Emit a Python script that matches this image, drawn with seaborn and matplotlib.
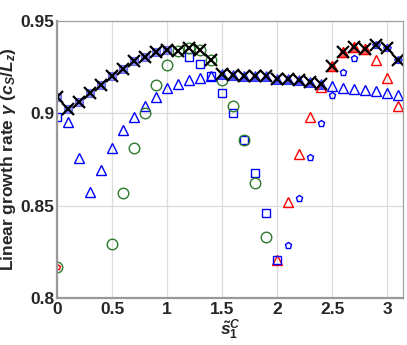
import numpy as np
import pandas as pd
import seaborn as sns
import matplotlib.pyplot as plt

# envelope (black crosses), all modes at x = 0, 0.1, ..., 3.1
x_env = np.round(np.arange(32) * 0.1, 1)
g_env = [0.909, 0.902, 0.906, 0.911, 0.915, 0.920, 0.924, 0.928, 0.9305, 0.933,
         0.934, 0.9336, 0.935, 0.934, 0.9287, 0.921, 0.9206, 0.920, 0.920, 0.920,
         0.9185, 0.9185, 0.918, 0.917, 0.916, 0.9255, 0.933, 0.9356, 0.9347, 0.937,
         0.935, 0.929]

# blue triangles
x_tri = [0.1, 0.2, 0.3, 0.4, 0.5, 0.6, 0.7, 0.8, 0.9, 1.0, 1.1, 1.2, 1.3, 1.4,
         2.5, 2.6, 2.7, 2.8, 2.9, 3.0, 3.1]
g_tri = [0.895, 0.876, 0.8575, 0.869, 0.881, 0.891, 0.898, 0.904, 0.909, 0.9134,
         0.9155, 0.918, 0.919, 0.920, 0.9147, 0.9136, 0.9129, 0.9124, 0.9118,
         0.9109, 0.9097]

# green circles
x_circ = [0.0, 0.5, 0.6, 0.7, 0.8, 0.9, 1.0, 1.1, 1.2, 1.3, 1.4, 1.5, 1.6, 1.7, 1.8, 1.9]
g_circ = [0.817, 0.829, 0.857, 0.881, 0.900, 0.915, 0.926, 0.9336, 0.935, 0.934,
          0.9287, 0.918, 0.904, 0.8855, 0.862, 0.833]

# blue squares
x_sq = [0.0, 1.2, 1.3, 1.4, 1.5, 1.6, 1.7, 1.8, 1.9, 2.0]
g_sq = [0.898, 0.9305, 0.9265, 0.920, 0.911, 0.900, 0.8855, 0.8675, 0.846, 0.8205]

# red triangles
x_red = [2.0, 2.1, 2.2, 2.3, 2.4, 2.5, 2.6, 2.7, 2.8, 2.9, 3.0, 3.1]
g_red = [0.8205, 0.852, 0.8777, 0.898, 0.914, 0.9255, 0.933, 0.9356, 0.9347,
         0.9287, 0.9188, 0.904]

# blue pentagons
x_pent = [2.1, 2.2, 2.3, 2.4, 2.5, 2.6, 2.7]
g_pent = [0.8287, 0.8543, 0.8764, 0.8948, 0.910, 0.922, 0.930]

x_ticks = [0, 0.5, 1, 1.5, 2, 2.5, 3]
x_ticklabels = ["0", "0.5", "1", "1.5", "2", "2.5", "3"]
y_ticks = [0.8, 0.85, 0.9, 0.95]
y_ticklabels = ["0.8", "0.85", "0.9", "0.95"]

sns.set_style("white")
plt.rcParams["font.family"] = ["Liberation Sans", "DejaVu Sans"]
plt.rcParams["font.weight"] = "bold"
plt.rcParams["mathtext.fontset"] = "custom"
plt.rcParams["mathtext.rm"] = "Liberation Sans:bold"
plt.rcParams["mathtext.it"] = "Liberation Sans:bold:italic"
plt.rcParams["mathtext.bf"] = "Liberation Sans:bold"

fig = plt.figure(figsize=(4.07, 3.45), dpi=100)
ax = fig.add_axes([0.140, 0.136, 0.850, 0.804])

env = pd.DataFrame({"x": x_env, "g": g_env})


def pts(df, **kw):
    sns.lineplot(data=df, x="x", y="g", ax=ax, linestyle="", sort=False,
                 legend=False, **kw)


# filled markers sitting underneath the crosses
pts(env[env.x <= 1.05], marker="s", markersize=6, color="#8c8cf5",
    markeredgecolor="#6a6af0", markeredgewidth=0.8)
pts(env[(env.x > 1.45) & (env.x < 2.45)], marker="^", markersize=7, color="#5050ff",
    markeredgecolor="#3030ff", markeredgewidth=0.8)
pts(env[(env.x > 2.45) & (env.x < 2.85)], marker="^", markersize=7.5, color="#ff6060",
    markeredgecolor="#ff2020", markeredgewidth=0.8)
pts(env[env.x > 2.85], marker="p", markersize=6, color="#6060ff",
    markeredgecolor="#3030ff", markeredgewidth=0.8)

pts(pd.DataFrame({"x": x_tri, "g": g_tri}), marker="^", markersize=7.7,
    markerfacecolor="none", markeredgecolor="#0000ff", markeredgewidth=1.0)
pts(pd.DataFrame({"x": x_red, "g": g_red}), marker="^", markersize=7.7,
    markerfacecolor="none", markeredgecolor="#ff0000", markeredgewidth=1.0)
pts(pd.DataFrame({"x": x_sq, "g": g_sq}), marker="s", markersize=5.2,
    markerfacecolor="none", markeredgecolor="#0000ff", markeredgewidth=1.0)
pts(pd.DataFrame({"x": x_pent, "g": g_pent}), marker="p", markersize=4.8,
    markerfacecolor="none", markeredgecolor="#0000ff", markeredgewidth=1.0)
pts(pd.DataFrame({"x": x_circ, "g": g_circ}), marker="o", markersize=7.6,
    markerfacecolor="none", markeredgecolor="#2d7a2d", markeredgewidth=1.0)
pts(pd.DataFrame({"x": [0.0], "g": [0.817]}), marker="p", markersize=4,
    markerfacecolor="none", markeredgecolor="#ff0000", markeredgewidth=1.0)
pts(env, marker="x", markersize=8, color="k", markeredgecolor="k",
    markeredgewidth=1.6)

ax.set_xlim(0, np.pi)
ax.set_ylim(0.8, 0.95)
ax.set_xticks(x_ticks)
ax.set_xticklabels(x_ticklabels)
ax.set_yticks(y_ticks)
ax.set_yticklabels(y_ticklabels)
ax.tick_params(axis="both", direction="in", length=3, width=0.8, color="#888888",
               labelsize=12.5)
ax.tick_params(axis="x", pad=3)
ax.tick_params(axis="y", pad=2)
for lab in ax.get_xticklabels() + ax.get_yticklabels():
    lab.set_fontweight("bold")
ax.grid(True, color="#dcdcdc", linewidth=0.9)
for side in ["top", "right"]:
    ax.spines[side].set_color("#a0a0a0")
    ax.spines[side].set_linewidth(0.9)
for side in ["left", "bottom"]:
    ax.spines[side].set_color("#999999")
    ax.spines[side].set_linewidth(1.6)

ax.set_xlabel(r"$\tilde{s}_1^C$", fontsize=12.5, labelpad=0)
ax.set_ylabel(r"Linear growth rate $\gamma$ ($c_S/L_z$)", fontsize=12.5,
              fontweight="bold", labelpad=2)

fig.savefig("out.png", dpi=100)
